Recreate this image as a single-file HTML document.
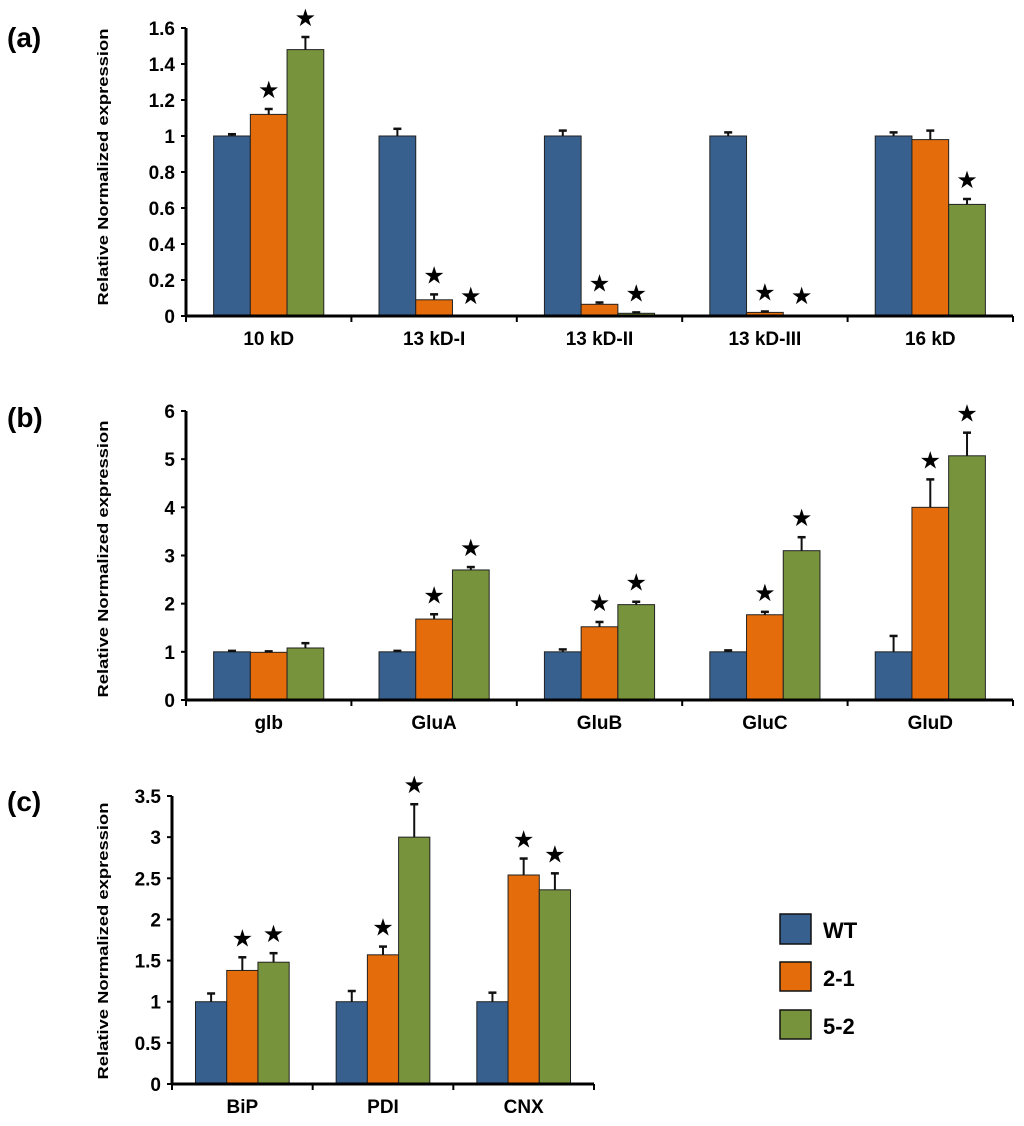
<!DOCTYPE html>
<html><head><meta charset="utf-8"><style>
html,body{margin:0;padding:0;background:#fff;}
svg{display:block;font-family:"Liberation Sans",Arial,sans-serif;}
</style></head><body>
<svg id="fig" width="1024" height="1126" viewBox="0 0 1024 1126" xmlns="http://www.w3.org/2000/svg">
<text x="7" y="47" font-size="28" font-weight="bold">(a)</text>
<text x="7" y="427" font-size="28" font-weight="bold">(b)</text>
<text x="7" y="811" font-size="28" font-weight="bold">(c)</text>
<g>
<rect x="780" y="914" width="31" height="30" fill="#37608f" stroke="#111" stroke-width="1.5"/>
<text x="823" y="938" font-size="22" font-weight="bold">WT</text>
<rect x="780" y="962" width="31" height="29" fill="#e46c0a" stroke="#111" stroke-width="1.5"/>
<text x="823" y="986" font-size="22" font-weight="bold">2-1</text>
<rect x="780" y="1010" width="31" height="29" fill="#77933c" stroke="#111" stroke-width="1.5"/>
<text x="823" y="1034" font-size="22" font-weight="bold">5-2</text>
</g>
</svg>
<script>
const aCategories = ["10 kD","13 kD-I","13 kD-II","13 kD-III","16 kD"];
const aWT = [1,1,1,1,1];
const aWTErr = [0.01,0.04,0.03,0.02,0.02];
const a21 = [1.12,0.09,0.065,0.02,0.98];
const a21Err = [0.03,0.03,0.01,0.005,0.05];
const a52 = [1.48,0.005,0.015,0.005,0.62];
const a52Err = [0.07,0,0.005,0,0.03];
const a21Star = [1,1,1,1,0];
const a52Star = [1,1,1,1,1];
const aTicks = ["0","0.2","0.4","0.6","0.8","1","1.2","1.4","1.6"];

const bCategories = ["glb","GluA","GluB","GluC","GluD"];
const bWT = [1,1,1,1,1];
const bWTErr = [0.02,0.02,0.05,0.03,0.33];
const b21 = [0.99,1.68,1.52,1.77,4.0];
const b21Err = [0.02,0.1,0.1,0.06,0.58];
const b52 = [1.08,2.7,1.98,3.1,5.07];
const b52Err = [0.1,0.06,0.06,0.28,0.48];
const b21Star = [0,1,1,1,1];
const b52Star = [0,1,1,1,1];
const bTicks = ["0","1","2","3","4","5","6"];

const cCategories = ["BiP","PDI","CNX"];
const cWT = [1,1,1];
const cWTErr = [0.1,0.13,0.11];
const c21 = [1.38,1.57,2.54];
const c21Err = [0.16,0.1,0.2];
const c52 = [1.48,3.0,2.36];
const c52Err = [0.11,0.4,0.2];
const c21Star = [1,1,1];
const c52Star = [1,1,1];
const cTicks = ["0","0.5","1","1.5","2","2.5","3","3.5"];

const NS="http://www.w3.org/2000/svg";
const svg=document.getElementById('fig');
function mk(tag,attrs,parent){const e=document.createElementNS(NS,tag);for(const k in attrs)e.setAttribute(k,attrs[k]);(parent||svg).appendChild(e);return e;}
const colors=["#37608f","#e46c0a","#77933c"];
const sNames=["wt","2-1","5-2"];

function panel(id,cfg){
  const g=mk('g',{});
  
  
  const ticks=cfg.ticks.map(Number);
  const ymax=ticks[ticks.length-1];
  const y=v=>cfg.y0-(v/ymax)*(cfg.y0-cfg.yTop);
  const n=cfg.cats.length;
  const gw=(cfg.xEnd-cfg.x0)/n;
  const x=i=>cfg.x0+gw*(i+0.5);
  const ya=mk('line',{x1:cfg.x0,y1:cfg.yTop,x2:cfg.x0,y2:cfg.y0,stroke:'#000','stroke-width':3},g);
  
  
  cfg.ticks.forEach((t,i)=>{
    const yy=y(Number(t));
    mk('line',{x1:cfg.x0-5,y1:yy,x2:cfg.x0,y2:yy,stroke:'#000','stroke-width':2},g);
    const tl=mk('text',{x:cfg.x0-11,y:yy+7,'font-size':19,'font-weight':'bold','text-anchor':'end'},g);
    tl.textContent=t;
    
    
  });
  const yt=mk('text',{x:0,y:0,'font-size':15,'font-weight':'bold','text-anchor':'middle',textLength:cfg.titleLen,lengthAdjust:'spacingAndGlyphs',transform:`translate(${cfg.titleX},${cfg.titleY}) rotate(-90)`},g);
  yt.textContent='Relative Normalized expression';
  
  
  const series=[[cfg.wt,cfg.wtE,null],[cfg.s21,cfg.s21E,cfg.st21],[cfg.s52,cfg.s52E,cfg.st52]];
  const bw=gw*0.222;
  for(let i=0;i<n;i++){
    series.forEach((s,k)=>{
      const bx=x(i)+(k-1.5)*bw;
      const v=s[0][i], e=s[1][i];
      const r=mk('rect',{x:bx,y:y(v),width:bw,height:Math.max(cfg.y0-y(v),0.5),fill:colors[k],stroke:'#222','stroke-width':1},g);
      
      
      const cx=bx+bw/2;
      const et=y(v+e);
      if(e>0){
        const el=mk('line',{x1:cx,y1:y(v),x2:cx,y2:et,stroke:'#111','stroke-width':2},g);
        
        
        mk('line',{x1:cx-4,y1:et,x2:cx+4,y2:et,stroke:'#111','stroke-width':2.5},g);
      }
      if(s[2] && s[2][i]){
        const st=mk('text',{x:cx,y:et-11,'font-size':24,'text-anchor':'middle'},g);
        st.textContent='★';
        
        
      }
    });
  }
  const xa=mk('line',{x1:cfg.x0,y1:cfg.y0,x2:cfg.xEnd,y2:cfg.y0,stroke:'#000','stroke-width':3},g);
  
  
  for(let i=0;i<=n;i++){
    const tx=cfg.x0+gw*i;
    mk('line',{x1:tx,y1:cfg.y0,x2:tx,y2:cfg.y0+6,stroke:'#000','stroke-width':2},g);
  }
  cfg.cats.forEach((c,i)=>{
    const cl=mk('text',{x:x(i),y:cfg.y0+29,'font-size':19,'font-weight':'bold','text-anchor':'middle'},g);
    cl.textContent=c;
    
    
  });
}
panel('a',{cats:aCategories,wt:aWT,wtE:aWTErr,s21:a21,s21E:a21Err,s52:a52,s52E:a52Err,st21:a21Star,st52:a52Star,ticks:aTicks,x0:186,xEnd:1013,yTop:28,y0:316,titleX:108,titleY:167,titleLen:277});
panel('b',{cats:bCategories,wt:bWT,wtE:bWTErr,s21:b21,s21E:b21Err,s52:b52,s52E:b52Err,st21:b21Star,st52:b52Star,ticks:bTicks,x0:186,xEnd:1013,yTop:411,y0:700,titleX:108,titleY:559,titleLen:277});
panel('c',{cats:cCategories,wt:cWT,wtE:cWTErr,s21:c21,s21E:c21Err,s52:c52,s52E:c52Err,st21:c21Star,st52:c52Star,ticks:cTicks,x0:172,xEnd:594,yTop:796,y0:1084,titleX:108,titleY:941,titleLen:277});
</script>
</body></html>
